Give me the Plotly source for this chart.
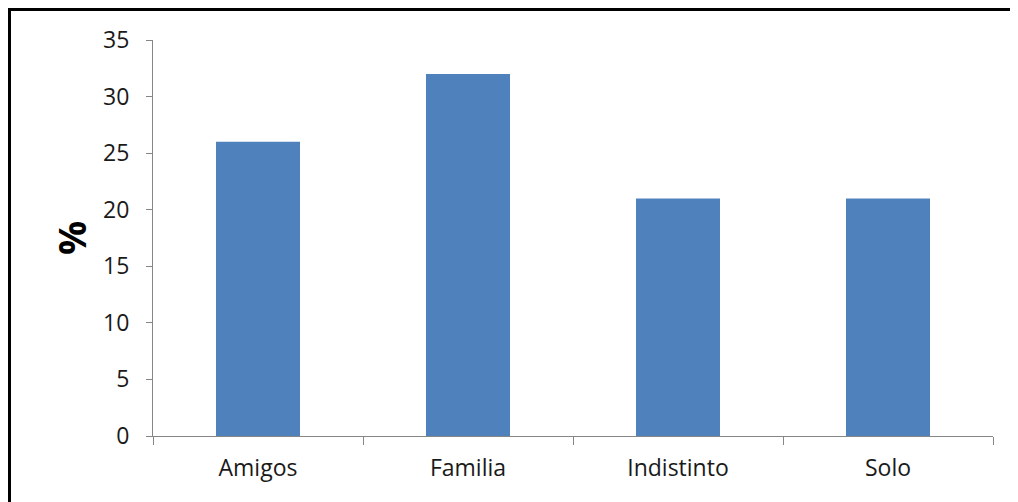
import plotly.graph_objects as go

categories = ["Amigos", "Familia", "Indistinto", "Solo"]
values = [26, 32, 21, 21]
y_ticks = [0, 5, 10, 15, 20, 25, 30, 35]

OFF = 8  # page offset of the figure in the screenshot
W, H = 1018 - OFF, 502 - OFF
L, R, T, B = 153 - OFF, 25, 40 - OFF, 66
pw, ph = W - L - R, H - T - B

def px(sx):
    return (sx - OFF - L) / pw

def py(sy):
    return (H - B - (sy - OFF)) / ph

fig = go.Figure()
fig.add_trace(go.Bar(x=categories, y=values, marker=dict(color="#4F81BD", line=dict(width=0)), width=0.4))

fig.update_layout(
    width=W, height=H,
    margin=dict(l=L, r=R, t=T, b=B),
    paper_bgcolor="white", plot_bgcolor="white",
    showlegend=False,
    font=dict(family="Open Sans, Liberation Sans, sans-serif", color="#1a1a1a"),
    xaxis=dict(
        showline=True, linecolor="#868686", linewidth=1,
        ticks="outside", tickson="boundaries", ticklen=8, tickcolor="#868686",
        tickfont=dict(size=23), showgrid=False, mirror=False, ticklabelstandoff=11,
    ),
    yaxis=dict(
        range=[0, 35], tickvals=y_ticks, showline=True, linecolor="#868686", linewidth=1,
        ticks="outside", ticklen=6, tickcolor="#868686", showgrid=False, zeroline=False,
        tickfont=dict(size=23), ticklabelstandoff=12,
    ),
    annotations=[
        dict(text="<b>%</b>", xref="paper", yref="paper", x=px(71), y=py(238),
             showarrow=False, textangle=-90, font=dict(size=38, color="black"),
             xanchor="center", yanchor="middle"),
    ],
    shapes=[
        dict(type="line", xref="paper", yref="paper", x0=px(9.5), x1=px(1030), y0=py(9.5), y1=py(9.5),
             line=dict(color="black", width=3)),
        dict(type="line", xref="paper", yref="paper", x0=px(9.5), x1=px(9.5), y0=py(8), y1=py(520),
             line=dict(color="black", width=3)),
    ],
)

fig.write_html("out.html")
